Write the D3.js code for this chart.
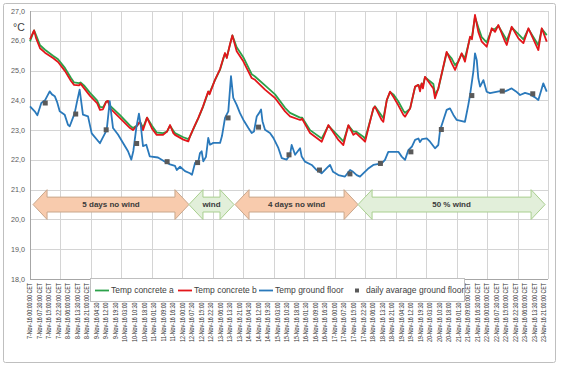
<!DOCTYPE html>
<html><head><meta charset="utf-8">
<script src="https://cdn.jsdelivr.net/npm/d3@7/dist/d3.min.js"></script>
<style>
html,body{margin:0;padding:0;background:#fff;}
svg{display:block;font-family:"Liberation Sans",Arial,sans-serif;}
</style></head>
<body><svg id="c" width="563" height="367"></svg>
<script>
// ---- data (hours from 7-Nov-16 00:00 CET) ----
const concreteHours = [0,3.2,4.7,7.9,11.8,18.1,22.1,27.6,32.3,34.7,38.6,39.8,42.5,47.3,52.8,55.1,57.5,59.9,61.4,63,70.9,78.8,81.1,84.3,86.6,89,92.2,96.1,99.8,104.8,107.9,110.3,112.9,114.2,120.8,124.7,126,129.2,132.6,136.3,140.4,141.4,145.7,149.7,152.3,153.6,155,157.6,159.4,162.8,168,174.6,177.2,185.1,193,200.9,204.8,212.7,214.3,220.6,229.8,235,242.9,246.8,250.8,254.7,256.8,262.5,263.9,270.4,271.7,277,278.3,281,283.6,286.2,289.9,294.1,295.4,299.4,303.3,305.9,307.2,308.5,309.5,311.1,317.7,319,321.6,328.2,332.2,334.8,337.3,340,342.6,346.6,348.1,350.5,353.1,355.8,359.7,363.7,366.3,368.9,374.2,375.5,379.4,384.7,388.6,392.6,400.4,403.1,407];
const concreteB = [26.05,26.35,26.1,25.75,25.6,25.42,25.29,24.98,24.65,24.52,24.5,24.56,24.41,24.15,23.91,23.68,23.7,23.95,23.98,23.74,23.4,23.07,23.0,23.15,23.28,23.0,23.42,23.05,22.84,22.84,22.95,23.17,22.9,22.84,22.68,22.62,22.79,23.1,23.41,23.8,24.3,24.2,24.69,25.05,25.42,25.59,25.42,25.9,26.18,25.65,25.31,24.75,24.69,24.36,24.08,23.63,23.46,23.34,23.38,22.9,22.61,23.17,22.67,22.5,23.17,22.84,22.9,22.67,22.61,23.73,23.79,23.34,23.28,24.01,24.29,24.12,23.85,23.51,23.45,23.73,24.46,24.52,24.3,24.57,24.4,24.79,24.4,24.07,24.4,25.63,25.24,25.02,25.3,25.58,25.3,26.14,26.05,26.87,26.3,25.97,25.8,26.42,26.3,26.53,25.97,25.86,26.47,26.08,25.92,26.42,25.69,26.42,25.97];
const concreteA = [25.98,26.35,26.2,25.85,25.7,25.5,25.38,25.08,24.75,24.6,24.58,24.6,24.5,24.25,24.0,23.78,23.76,23.95,23.98,23.82,23.5,23.15,23.07,23.15,23.28,23.08,23.42,23.15,22.92,22.9,22.95,23.15,22.98,22.9,22.76,22.7,22.78,23.08,23.4,23.78,24.28,24.25,24.68,25.03,25.4,25.57,25.45,25.88,26.18,25.78,25.45,24.88,24.8,24.5,24.2,23.75,23.58,23.42,23.42,23.0,22.72,23.15,22.8,22.62,23.15,22.95,22.95,22.78,22.7,23.7,23.8,23.48,23.4,24.0,24.28,24.2,23.98,23.65,23.58,23.72,24.45,24.52,24.42,24.56,24.5,24.78,24.55,24.2,24.38,25.6,25.4,25.18,25.3,25.56,25.42,26.1,26.12,26.8,26.45,26.12,25.95,26.38,26.4,26.5,26.12,26.0,26.45,26.22,26.05,26.4,25.85,26.4,26.19];
const groundHours = [0,3.7,5.8,8.9,11.8,15.5,17.3,19.5,21.3,23.4,27.3,29.9,31.3,35.2,37,39.1,41.7,45.7,48.6,55.1,56.7,60.4,62.8,65.4,69.3,77.2,79.8,81.4,83.8,85.8,87.2,89,91.6,94.3,100.8,106.3,110.3,114.2,115.6,118.2,122.1,126,127.6,130,132.6,133.9,135.2,136.5,138.6,140.4,141.8,144.4,149.7,151.2,153.6,156.2,158.3,160.1,162.8,165.4,168,172,174.6,176.4,178.6,180.4,182,183.1,185.1,189,191.7,195.6,198.3,202.2,204.8,206.1,208.8,212.7,214,216.6,221.9,225.8,229.7,233.7,236.3,238.7,242.9,248.1,252.1,254.5,257.3,259.9,262.5,266.2,270.4,277,279.6,282.2,290.1,292.8,295.4,298,300.9,303.3,305.9,307.2,308.8,312.5,315.1,319,321.6,323,325.6,328.2,330.8,333.5,336.1,342.6,345.2,346.6,349.2,350.5,351.9,353.1,354.5,357.1,359.7,362.3,370.2,374.2,379.4,382.8,386,389.9,393.9,397.8,400.4,403.1,404.3,407];
const groundFloor = [23.8,23.63,23.5,23.91,24.0,24.3,24.2,24.14,23.95,23.63,23.52,23.18,23.13,23.57,23.95,24.36,23.52,23.46,22.89,22.56,22.7,23.0,23.97,23.07,22.85,22.29,22.01,22.3,23.1,23.55,23.18,22.46,22.51,22.12,22.08,21.94,21.85,21.8,21.66,21.77,21.62,21.55,21.5,21.9,21.95,22.23,22.29,21.95,22.1,22.74,22.51,22.57,22.57,22.8,23.41,23.63,24.81,24.08,23.85,23.57,23.35,23.07,22.9,22.95,23.46,23.57,23.69,23.3,23.01,22.9,22.74,22.4,22.06,22.01,22.17,22.5,22.17,22.39,22.11,21.94,21.83,21.66,21.55,21.72,21.83,21.6,21.49,21.44,21.66,21.6,21.49,21.44,21.55,21.7,21.83,21.88,22.0,22.27,22.27,22.11,22.0,22.33,22.45,22.67,22.72,22.6,22.7,22.72,22.61,22.39,22.5,23.0,23.34,23.68,23.73,23.51,23.34,23.28,23.84,24.18,24.96,25.58,25.35,24.74,24.46,24.68,24.29,24.24,24.31,24.3,24.4,24.3,24.18,24.25,24.2,24.1,24.01,24.4,24.57,24.29];
const avgHours = [12,36,60,84,108,132,156,180,204,228,252,276,300,324,348,372,396];
const dailyAvg = [23.91,23.54,23.01,22.55,21.94,21.91,23.41,23.1,22.17,21.66,21.53,21.88,22.27,23.02,24.16,24.31,24.22];
const yTicks = [18,19,20,21,22,23,24,25,26,27];
const tickLabels = ["7-Nov-16 00:00:00 CET","7-Nov-16 07:30:00 CET","7-Nov-16 15:00:00 CET","7-Nov-16 22:30:00 CET","8-Nov-16 06:00:00 CET","8-Nov-16 13:30:00 CET","8-Nov-16 21:00:00 CET","9-Nov-16 04:30:00 CET","9-Nov-16 12:00:00 CET","9-Nov-16 19:30:00 CET","10-Nov-16 03:00:00 CET","10-Nov-16 10:30:00 CET","10-Nov-16 18:00:00 CET","11-Nov-16 01:30:00 CET","11-Nov-16 09:00:00 CET","11-Nov-16 16:30:00 CET","12-Nov-16 00:00:00 CET","12-Nov-16 07:30:00 CET","12-Nov-16 15:00:00 CET","12-Nov-16 22:30:00 CET","13-Nov-16 06:00:00 CET","13-Nov-16 13:30:00 CET","13-Nov-16 21:00:00 CET","14-Nov-16 04:30:00 CET","14-Nov-16 12:00:00 CET","14-Nov-16 19:30:00 CET","15-Nov-16 03:00:00 CET","15-Nov-16 10:30:00 CET","15-Nov-16 18:00:00 CET","16-Nov-16 01:30:00 CET","16-Nov-16 09:00:00 CET","16-Nov-16 16:30:00 CET","17-Nov-16 00:00:00 CET","17-Nov-16 07:30:00 CET","17-Nov-16 15:00:00 CET","17-Nov-16 22:30:00 CET","18-Nov-16 06:00:00 CET","18-Nov-16 13:30:00 CET","18-Nov-16 21:00:00 CET","19-Nov-16 04:30:00 CET","19-Nov-16 12:00:00 CET","19-Nov-16 19:30:00 CET","20-Nov-16 03:00:00 CET","20-Nov-16 10:30:00 CET","20-Nov-16 18:00:00 CET","21-Nov-16 01:30:00 CET","21-Nov-16 09:00:00 CET","21-Nov-16 16:30:00 CET","22-Nov-16 00:00:00 CET","22-Nov-16 07:30:00 CET","22-Nov-16 15:00:00 CET","22-Nov-16 22:30:00 CET","23-Nov-16 06:00:00 CET","23-Nov-16 13:30:00 CET","23-Nov-16 21:00:00 CET"];
const phaseLabels = ["5 days no wind","wind","4 days no wind","50 % wind"];
const phaseStart = [2.4,125.2,161.5,258.4];
const phaseEnd = [125.2,160.7,258.4,405.7];
const phaseKind = ["calm","wind","calm","wind"];
const seriesNames = ["Temp concrete a","Temp concrete b","Temp ground floor","daily avarage ground floor"];

// ---- layout ----
const m = {l:30, r:548, t:11, b:279};
const svg = d3.select("#c");
const x = d3.scaleLinear().domain([0,408]).range([m.l,m.r]);
const y = d3.scaleLinear().domain([18,27]).range([m.b,m.t]);
const col = {a:"#2ca14a", b:"#e3161b", g:"#2a79bb", avg:"#5a5a5a", grid:"#d4d4d4"};

svg.append("rect").attr("x",3.5).attr("y",3.5).attr("width",552).attr("height",359)
  .attr("fill","#fff").attr("stroke","#bfbfbf").attr("rx",2);

// grid
const g = svg.append("g");
g.selectAll("line.h").data(yTicks).join("line")
  .attr("x1",m.l).attr("x2",m.r).attr("y1",d=>Math.round(y(d))+0.5).attr("y2",d=>Math.round(y(d))+0.5)
  .attr("stroke",col.grid);
g.selectAll("line.v").data(d3.range(0,409,24)).join("line")
  .attr("y1",m.t).attr("y2",m.b).attr("x1",d=>Math.round(x(d))+0.5).attr("x2",d=>Math.round(x(d))+0.5)
  .attr("stroke",col.grid);
g.append("line").attr("x1",m.l+0.5).attr("x2",m.l+0.5).attr("y1",m.t).attr("y2",m.b).attr("stroke","#a6a6a6");
g.append("line").attr("x1",m.l).attr("x2",m.r).attr("y1",m.b+0.5).attr("y2",m.b+0.5).attr("stroke","#a6a6a6");

// y labels
svg.append("g").selectAll("text").data(yTicks).join("text")
  .attr("x",25).attr("y",d=>y(d)).attr("dy","0.35em").attr("text-anchor","end")
  .attr("font-size",7.2).attr("fill","#595959").text(d=>d3.format(".1f")(d).replace(".",","));
svg.append("text").attr("x",13).attr("y",31).attr("font-size",10.5).attr("fill","#404040").text("°C");

// x labels
const xl = svg.append("g").selectAll("text").data(tickLabels).join("text")
  .attr("transform",(d,i)=>`translate(${x(i*7.5)},283) rotate(-90)`)
  .attr("dy","0.35em").attr("text-anchor","end").attr("font-size",6.4).attr("fill","#333").text(d=>d);
xl.each(function(){ const L=this.getComputedTextLength(); d3.select(this).attr("textLength",L*0.83).attr("lengthAdjust","spacingAndGlyphs"); });

// arrows
const ya = y(20.5), headH = y(20.0)-y(21.0), bodyH = y(20.25)-y(20.75), hl = 14;
const ag = svg.append("g");
phaseLabels.forEach((lab,i)=>{
  const x0 = x(phaseStart[i]), x1 = x(phaseEnd[i]);
  const hh = headH/2, bh = bodyH/2;
  const p = d3.path();
  p.moveTo(x0,ya); p.lineTo(x0+hl,ya-hh); p.lineTo(x0+hl,ya-bh); p.lineTo(x1-hl,ya-bh);
  p.lineTo(x1-hl,ya-hh); p.lineTo(x1,ya); p.lineTo(x1-hl,ya+hh); p.lineTo(x1-hl,ya+bh);
  p.lineTo(x0+hl,ya+bh); p.lineTo(x0+hl,ya+hh); p.closePath();
  const calm = phaseKind[i]==="calm";
  ag.append("path").attr("d",p.toString())
    .attr("fill",calm?"#f8cbad":"#e2efda").attr("stroke",calm?"#c9a78c":"#a9cf8f").attr("stroke-width",1);
  ag.append("text").attr("x",(x0+x1)/2).attr("y",ya).attr("dy","0.35em").attr("text-anchor","middle")
    .attr("font-size",8).attr("font-weight","bold").attr("fill","#3a3a3a").text(lab);
});

// lines
const line = (hrs)=>d3.line().x((d,i)=>x(hrs[i])).y(d=>y(d));
svg.append("path").datum(concreteA).attr("d",line(concreteHours)).attr("fill","none").attr("stroke",col.a).attr("stroke-width",1.8).attr("stroke-linejoin","round");
svg.append("path").datum(concreteB).attr("d",line(concreteHours)).attr("fill","none").attr("stroke",col.b).attr("stroke-width",1.8).attr("stroke-linejoin","round");
svg.append("path").datum(groundFloor).attr("d",line(groundHours)).attr("fill","none").attr("stroke",col.g).attr("stroke-width",1.8).attr("stroke-linejoin","round");
svg.append("g").selectAll("rect").data(dailyAvg).join("rect")
  .attr("x",(d,i)=>x(avgHours[i])-2.5).attr("y",d=>y(d)-2.5).attr("width",5).attr("height",5).attr("fill",col.avg);

// legend
const lg = svg.append("g");
lg.append("rect").attr("x",90.5).attr("y",278.5).attr("width",374).attr("height",23).attr("fill","#fff").attr("stroke","#bfbfbf");
const lx = [95,178,259,354];
const lcol = [col.a,col.b,col.g,col.avg];
seriesNames.forEach((n,i)=>{
  if(i<3){
    lg.append("line").attr("x1",lx[i]).attr("x2",lx[i]+14).attr("y1",290.5).attr("y2",290.5).attr("stroke",lcol[i]).attr("stroke-width",1.8);
    lg.append("text").attr("x",lx[i]+16).attr("y",290.5).attr("dy","0.35em").attr("font-size",8.5).attr("fill","#404040").text(n);
  } else {
    lg.append("rect").attr("x",lx[i]+1).attr("y",288.5).attr("width",4).attr("height",4).attr("fill",lcol[i]);
    lg.append("text").attr("x",lx[i]+12).attr("y",290.5).attr("dy","0.35em").attr("font-size",8.5).attr("fill","#404040").text(n);
  }
});
</script></body></html>
